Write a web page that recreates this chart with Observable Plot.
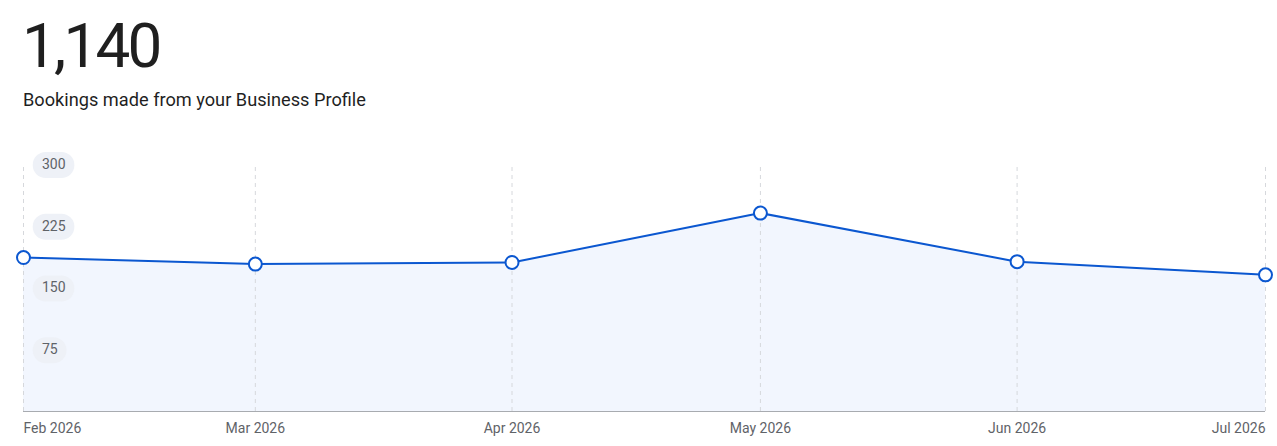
<!DOCTYPE html>
<html>
<head>
<meta charset="utf-8">
<script src="https://cdn.jsdelivr.net/npm/d3@7"></script>
<script src="https://cdn.jsdelivr.net/npm/@observablehq/plot@0.6"></script>
<style>
  html, body { margin: 0; padding: 0; background: #fff; }
  body { width: 1277px; height: 446px; overflow: hidden; font-family: Roboto, "Noto Sans", sans-serif; }
  #head { position: relative; height: 130px; }
  #total { position: absolute; left: 22px; top: 9px; font-size: 62px; font-weight: 400; color: #1f1f1f; line-height: 74px; letter-spacing: -2.8px; }
  #sub { position: absolute; left: 23px; top: 88px; font-size: 18.2px; color: #1f1f1f; line-height: 24px; }
  svg { display: block; }
</style>
</head>
<body>
<div id="head">
  <div id="total">1,140</div>
  <div id="sub">Bookings made from your Business Profile</div>
</div>
<div id="chart"></div>
<script>
const months = ["2026-02-01", "2026-03-01", "2026-04-01", "2026-05-01", "2026-06-01", "2026-07-01"];
const monthLabels = ["Feb 2026", "Mar 2026", "Apr 2026", "May 2026", "Jun 2026", "Jul 2026"];
const bookings = [187, 179, 181, 241, 182, 166];
const yTicks = [75, 150, 225, 300];

const data = months.map((m, i) => ({date: new Date(m + "T00:00:00"), value: bookings[i], label: monthLabels[i], i}));
const n = data.length;
const first = data.slice(0, 1), middle = data.slice(1, n - 1), last = data.slice(n - 1);

const xLabel = (arr, anchor) => Plot.text(arr, {
  x: "date", y: 0, dy: 17, text: "label", fontSize: 14, fill: "#5f6368", textAnchor: anchor
});

const chart = Plot.plot({
  width: 1277,
  height: 316,
  marginTop: 34,
  marginBottom: 35,
  marginLeft: 23,
  marginRight: 12,
  style: {fontFamily: "Roboto, sans-serif", background: "#fff"},
  x: {type: "time", domain: [data[0].date, data[n - 1].date], axis: null},
  y: {domain: [0, 300], axis: null},
  marks: [
    Plot.areaY(data, {x: "date", y: "value", fill: "#f2f6fe", curve: "linear"}),
    Plot.ruleX(data, {x: "date", y1: 0, y2: 300, stroke: "#d6d8dc", strokeWidth: 1, strokeDasharray: "4,4"}),
    Plot.ruleY([0], {stroke: "#a8abb0", strokeWidth: 1}),
    Plot.text(yTicks, {
      y: d => d,
      x: () => data[0].date,
      dx: 18.5,
      text: d => String(d),
      textAnchor: "start",
      fontSize: 14,
      fill: "#5f6368",
      render(index, scales, values, dimensions, context, next) {
        const g = next(index, scales, values, dimensions, context);
        const ns = "http://www.w3.org/2000/svg";
        const bg = document.createElementNS(ns, "g");
        index.forEach((k) => {
          const label = String(yTicks[k]);
          const w = label.length * 7.9 + 18;
          const r = document.createElementNS(ns, "rect");
          r.setAttribute("x", values.x[k] - 9.3);
          r.setAttribute("y", values.y[k] - 13 + 0.5);
          r.setAttribute("width", w);
          r.setAttribute("height", 26);
          r.setAttribute("rx", 13);
          r.setAttribute("fill", "#eef1f7");
          bg.appendChild(r);
        });
        g.insertBefore(bg, g.firstChild);
        return g;
      }
    }),
    Plot.lineY(data, {x: "date", y: "value", stroke: "#0b57d0", strokeWidth: 2, curve: "linear"}),
    Plot.dot(data, {x: "date", y: "value", r: 6.5, fill: "#fff", stroke: "#0b57d0", strokeWidth: 2}),
    xLabel(first, "start"),
    xLabel(middle, "middle"),
    xLabel(last, "end")
  ]
});
document.getElementById("chart").appendChild(chart);
</script>
</body>
</html>
